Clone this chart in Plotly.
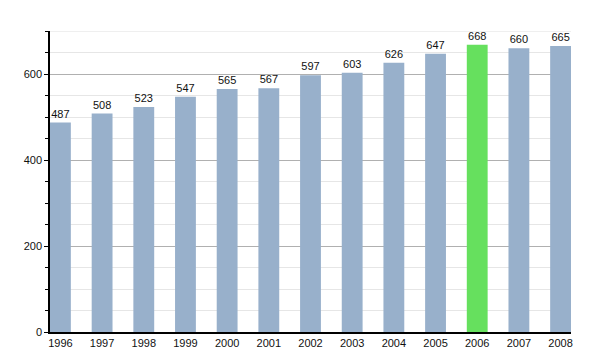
import plotly.graph_objects as go

years = ["1996","1997","1998","1999","2000","2001","2002","2003","2004","2005","2006","2007","2008"]
values = [487, 508, 523, 547, 565, 567, 597, 603, 626, 647, 668, 660, 665]
highlight = "2006"

colors = ["#66e05e" if y == highlight else "#98b0cb" for y in years]

fig = go.Figure(go.Bar(
    x=years, y=values, marker_color=colors, marker_line_width=0,
    width=0.5, text=[str(v) for v in values], textposition="outside",
    textfont=dict(size=11, color="#111", family="Liberation Sans, Arial"),
    cliponaxis=False,
))

fig.update_layout(
    width=600, height=350,
    margin=dict(l=50, r=29, t=31, b=18, autoexpand=False),
    paper_bgcolor="white", plot_bgcolor="white",
    showlegend=False,
    font=dict(family="Liberation Sans, Arial", size=11, color="#111"),
    bargap=0.5,
)
fig.update_xaxes(
    type="category", range=[-0.25, 12.25], automargin=False,
    showline=True, linecolor="black", linewidth=1.5,
    ticks="", showgrid=False, tickfont=dict(size=11),
)
fig.update_yaxes(
    range=[0, 700], dtick=200, tick0=0, automargin=False,
    showline=True, linecolor="black", linewidth=1.5,
    ticks="outside", ticklen=4, tickcolor="black",
    gridcolor="#b0b0b0", gridwidth=1,
    zeroline=False,
    minor=dict(dtick=50, showgrid=True, gridcolor="#e6e6e6", ticks="outside", ticklen=3, tickcolor="black"),
    tickfont=dict(size=11),
)
fig.add_shape(type="line", xref="paper", yref="y", x0=0, x1=1, y0=700, y1=700,
              line=dict(color="#e0e0e0", width=1), layer="below")

fig.write_html("out.html")
